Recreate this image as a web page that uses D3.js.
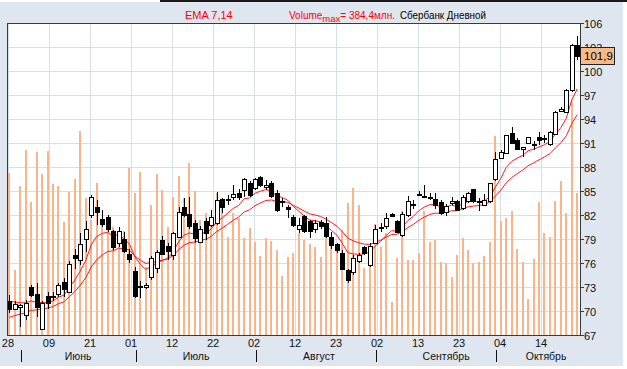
<!DOCTYPE html>
<html><head><meta charset="utf-8">
<script src="https://cdn.jsdelivr.net/npm/d3@7"></script>
<style>html,body{margin:0;padding:0;background:#fff;}svg{display:block;}</style>
</head><body>
<svg id="c" width="627" height="369"></svg>
<script>
// ---- data ----
const openP  = [71.2,70.3,70.5,69.5,73.0,72.1,67.7,71.9,71.8,72.1,73.6,72.4,77.0,76.4,78.9,81.9,83.0,81.5,81.7,80.0,78.5,79.0,77.1,75.0,73.1,73.0,74.2,75.4,78.9,78.1,77.0,79.3,83.0,82.1,81.0,78.7,81.2,80.75,81.0,83.96,84.0,84.2,84.8,85.1,86.0,85.3,86.8,85.5,85.96,84.7,83.7,83.04,81.8,80.3,81.9,81.2,80.3,81.1,80.96,79.3,78.4,77.3,75.1,74.9,76.2,77.96,75.75,78.5,80.5,80.54,82.1,81.3,79.5,82.0,83.35,84.6,84.4,84.2,83.96,83.6,82.3,83.46,83.7,82.8,83.75,85.2,83.7,83.3,83.7,86.4,89.2,89.8,92.3,91.4,90.25,91.0,90.9,91.7,91.6,90.95,92.2,95.0,94.9,97.6,103.25];
const highP  = [72.0,71.2,70.9,71.4,73.3,73.5,71.2,72.4,72.4,73.5,74.1,76.2,77.7,79.7,81.2,84.5,83.9,82.6,82.0,80.1,80.5,79.9,77.8,75.5,73.7,73.5,76.9,77.6,79.4,78.5,79.9,83.0,84.1,84.3,81.4,80.6,81.6,82.6,84.9,84.1,84.5,85.7,85.3,86.6,86.3,86.6,86.9,86.4,86.2,85.1,84.1,83.25,82.0,81.6,82.0,81.4,81.4,81.4,81.8,79.9,78.5,77.6,75.3,77.0,77.2,78.1,78.5,80.75,80.96,82.2,82.3,81.4,82.4,84.4,83.9,85.0,85.8,84.7,84.8,83.9,83.4,84.2,83.9,84.5,84.9,85.3,84.1,84.6,86.0,89.9,90.1,92.0,93.0,91.6,90.5,91.8,91.3,92.4,92.0,92.5,95.0,95.5,97.7,103.4,104.4];
const lowP   = [69.7,70.1,68.0,68.9,71.8,69.3,67.6,70.3,71.2,71.8,71.8,72.2,75.3,75.75,77.4,81.6,80.75,80.5,79.9,77.6,78.0,77.2,76.0,71.6,71.6,72.8,73.9,74.8,77.0,76.4,76.4,79.1,81.7,80.3,78.5,78.45,78.9,80.5,80.75,82.2,83.25,83.9,83.9,84.3,84.3,85.1,85.5,85.1,84.1,82.4,83.0,81.6,80.5,79.8,79.7,79.1,79.7,80.3,79.1,77.8,77.2,75.1,73.5,74.5,75.96,77.0,75.5,78.4,79.9,80.3,81.7,79.7,79.3,81.8,82.7,84.4,84.1,83.9,82.8,82.0,81.9,83.25,82.5,82.6,83.5,83.5,82.5,83.2,83.5,86.2,89.0,89.7,90.9,90.2,89.3,90.9,90.1,90.75,91.0,90.6,92.0,94.9,94.7,97.4,101.4];
const closeP = [70.2,70.9,70.75,71.0,72.0,70.5,71.0,71.0,71.85,73.2,72.7,75.9,76.6,78.4,80.2,84.2,82.4,80.9,80.2,78.0,80.0,77.5,76.5,71.9,73.05,73.3,76.6,77.4,77.2,77.5,79.7,82.4,82.0,80.6,79.1,80.3,79.7,81.8,83.9,83.0,84.0,84.6,84.3,86.5,84.5,86.45,85.75,85.8,84.3,82.6,83.65,82.8,80.75,80.75,80.0,79.9,81.04,80.66,79.3,78.25,77.7,75.3,73.9,76.6,77.0,77.2,78.1,80.3,80.54,81.6,81.8,79.9,82.1,83.7,83.4,84.6,84.4,84.2,83.25,82.2,83.1,83.75,82.6,84.2,84.7,83.7,83.7,83.9,85.96,88.96,89.9,92.0,91.0,90.3,90.5,91.7,90.9,91.3,91.6,92.4,94.9,95.3,97.6,103.25,101.9];
const volumeM = [266,106,244,304,219,300,264,302,248,245,186,235,257,335,225,189,250,181,190,178,170,171,274,233,268,112,214,264,238,177,227,261,225,282,237,189,200,194,234,217,161,200,192,159,176,152,130,160,155,140,97,128,135,167,156,149,145,128,167,159,145,172,217,241,214,110,123,182,145,167,55,126,203,124,124,134,203,153,156,120,119,95,131,160,140,118,120,130,152,327,187,193,204,141,120,59,125,219,168,161,220,253,200,384.4,234];
const ema7Seed = 71.2, ema14Seed = 69.2;           // indicator values at the first bar
const priceTicks = [106,103,100,97,94,91,88,85,82,79,76,73,70,67];
const dateLabels = ["28","09","21","01","12","22","02","12","23","02","13","23","04","14"];
const monthNames = ["Июнь","Июль","Август","Сентябрь","Октябрь"];
const monthStart = [2,23,45,67,89];               // bar index of first trading day of each month
const monthLabelAt = [12.6,34.2,56.7,80.0,98.3];  // bar index where each month name sits
const lastPriceLabel = "101,9";
const volMax = 384.4;

// ---- derived indicator series ----
function ema(src, n, seed){ const a=2/(n+1); const out=[seed]; for(let i=1;i<src.length;i++) out.push(out[i-1]+a*(src[i]-out[i-1])); return out; }
const ema7 = ema(closeP,7,ema7Seed), ema14 = ema(closeP,14,ema14Seed);

const N = closeP.length;
const L=7.5, R=580.5, T=23, B=335;
const x = d3.scaleLinear().domain([0,N-1]).range([9.3,577.2]);
const y = d3.scaleLinear().domain([67,106]).range([B,T]);
const yv = d3.scaleLinear().domain([0,volMax]).range([B,101]);
const dateTickIdx = dateLabels.map((d,k)=> -0.24 + k*7.51);

const svg = d3.select("#c");
const font = "Liberation Sans, Arial, sans-serif";
svg.append("rect").attr("x",0).attr("y",2).attr("width",623).attr("height",364).attr("fill","#dfe6ef");
svg.append("rect").attr("x",160).attr("y",0).attr("width",467).attr("height",2).attr("fill","#1a1a1a");
svg.append("rect").attr("x",L).attr("y",T).attr("width",R-L).attr("height",B-T).attr("fill","#fff");

const grid = svg.append("g").attr("shape-rendering","crispEdges").attr("stroke","#d6deea").attr("stroke-width",1);
grid.selectAll("line.h").data(priceTicks).join("line").attr("class","h")
  .attr("x1",L).attr("x2",R).attr("y1",d=>Math.round(y(d))+0.5).attr("y2",d=>Math.round(y(d))+0.5);
grid.selectAll("line.v").data(dateTickIdx).join("line").attr("class","v")
  .attr("y1",T).attr("y2",B).attr("x1",d=>Math.round(x(d))+0.5).attr("x2",d=>Math.round(x(d))+0.5);

// volume
svg.append("g").attr("shape-rendering","crispEdges").selectAll("rect").data(volumeM).join("rect")
  .attr("x",(d,i)=>Math.round(x(i))-1).attr("width",2)
  .attr("y",d=>yv(d)).attr("height",d=>B-yv(d)).attr("fill","#fbb48a");

// EMA lines
const line = d3.line().x((d,i)=>x(i)).y(d=>y(d));
[ema7,ema14].forEach(s=>svg.append("path").datum(s).attr("d",line).attr("fill","none").attr("stroke","#ff1a1a").attr("stroke-width",1));

// candles
const cg = svg.append("g").attr("shape-rendering","crispEdges");
const idx = d3.range(N);
cg.selectAll("line").data(idx).join("line")
  .attr("x1",i=>Math.round(x(i))+0.5).attr("x2",i=>Math.round(x(i))+0.5)
  .attr("y1",i=>y(highP[i])).attr("y2",i=>y(lowP[i])).attr("stroke","#000");
cg.selectAll("rect").data(idx).join("rect")
  .attr("x",i=>Math.round(x(i))-1.5).attr("width",4)
  .attr("y",i=>Math.round(y(Math.max(openP[i],closeP[i])))+0.5)
  .attr("height",i=>Math.max(1,Math.round(Math.abs(y(openP[i])-y(closeP[i])))))
  .attr("fill",i=>closeP[i]<openP[i]?"#000":"#fff").attr("stroke","#000");

// frame
svg.append("rect").attr("x",L).attr("y",T).attr("width",R-L).attr("height",B-T)
  .attr("fill","none").attr("stroke","#3a3a3a").attr("shape-rendering","crispEdges");

// right axis
const ax = svg.append("g");
ax.selectAll("line").data(priceTicks).join("line").attr("shape-rendering","crispEdges")
  .attr("x1",R).attr("x2",R+3).attr("y1",d=>Math.round(y(d))+0.5).attr("y2",d=>Math.round(y(d))+0.5).attr("stroke","#3a3a3a");
ax.selectAll("text").data(priceTicks).join("text")
  .attr("x",584).attr("y",d=>y(d)+4.5).attr("font-family",font).attr("font-size",11).attr("fill","#111").text(d=>d);

// last price box (drawn over the axis label behind it, as in the original)
const lp = closeP[N-1];
svg.append("rect").attr("x",580.5).attr("y",Math.round(y(lp))-8.5).attr("width",34).attr("height",17)
  .attr("fill","#f8b98b").attr("stroke","#222").attr("shape-rendering","crispEdges");
svg.append("text").attr("x",584).attr("y",y(lp)+4.5).attr("font-family",font).attr("font-size",11.5).attr("fill","#000").text(lastPriceLabel);

// date labels
svg.append("g").selectAll("text").data(dateLabels).join("text")
  .attr("x",(d,k)=>x(dateTickIdx[k])).attr("y",347).attr("text-anchor","middle")
  .attr("font-family",font).attr("font-size",11).attr("fill","#111").text(d=>d);
// month separators and names
svg.append("g").selectAll("line").data(monthStart).join("line").attr("shape-rendering","crispEdges")
  .attr("x1",d=>Math.round(x(d))+1.5).attr("x2",d=>Math.round(x(d))+1.5).attr("y1",350).attr("y2",362).attr("stroke","#111");
svg.append("g").selectAll("text").data(monthNames).join("text")
  .attr("x",(d,k)=>x(monthLabelAt[k])).attr("y",360).attr("text-anchor","middle")
  .attr("font-family",font).attr("font-size",10.5).attr("fill","#111").text(d=>d);

// title
svg.append("text").attr("x",185).attr("y",19).attr("font-family",font).attr("font-size",11).attr("fill","#ff0000").text("EMA 7,14");
const tt = svg.append("text").attr("x",289).attr("y",19).attr("font-family",font).attr("font-size",10).attr("fill","#ff0000");
tt.append("tspan").text("Volume");
tt.append("tspan").attr("dy",3).attr("font-size",9.5).text("max");
tt.append("tspan").attr("dy",-3).text("= 384,4млн.");
svg.append("text").attr("x",400).attr("y",19).attr("font-family",font).attr("font-size",10.5).attr("fill","#000")
  .attr("textLength",86).attr("lengthAdjust","spacingAndGlyphs").text("Сбербанк Дневной");
</script>
</body></html>
